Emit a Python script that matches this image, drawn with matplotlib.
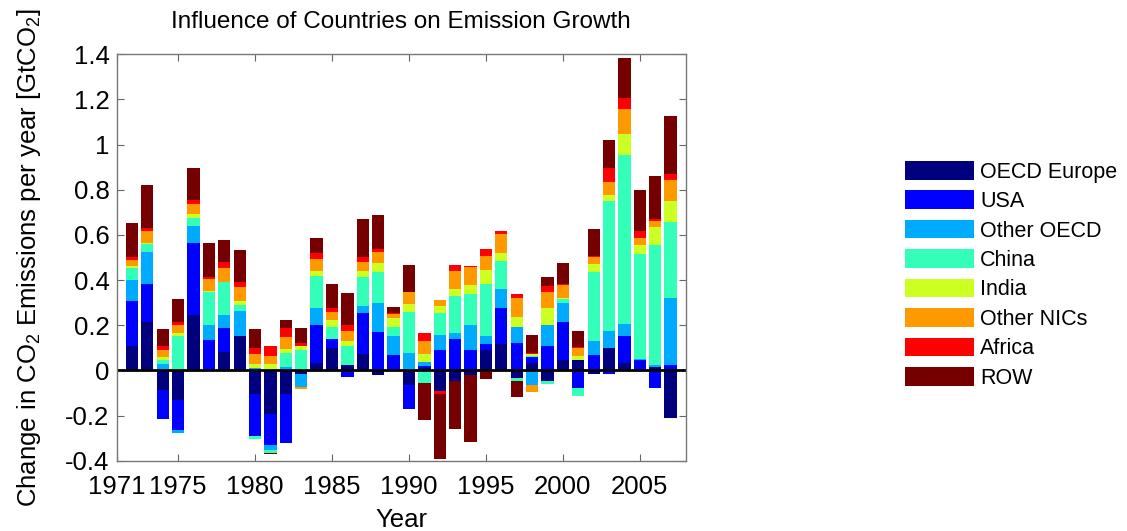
import matplotlib
matplotlib.use("Agg")
import matplotlib.pyplot as plt
import numpy as np

plt.rcParams["font.family"] = ["Liberation Sans", "DejaVu Sans"]
plt.rcParams["mathtext.default"] = "regular"

years = list(range(1972, 2008))

regions = ["OECD Europe", "USA", "Other OECD", "China", "India",
           "Other NICs", "Africa", "ROW"]
colors = ["#00007F", "#0000FF", "#00AAFF", "#33FFB8", "#CCFF22",
          "#FF9900", "#FF0000", "#760000"]

# yearly change per region [GtCO2/yr]
oecd_europe = [0.107, 0.213, -0.085, -0.132, 0.247, 0.005, 0.082, 0.154, -0.103, -0.194,
               -0.103, -0.018, 0.034, 0.100, 0.022, 0.071, -0.022, 0.000, -0.063, 0.012,
               -0.093, -0.049, -0.022, 0.088, 0.118, -0.032, 0.032, -0.047, 0.047, 0.044,
               -0.018, 0.100, 0.032, 0.000, 0.015, -0.211]
usa = [0.202, 0.169, -0.130, -0.130, 0.316, 0.130, 0.105, 0.000, -0.188, -0.137,
       -0.217, 0.000, 0.167, 0.040, -0.029, 0.183, 0.169, 0.066, -0.109, 0.008,
       0.088, 0.137, 0.088, 0.030, 0.157, 0.123, 0.027, 0.107, 0.167, -0.077,
       0.066, -0.018, 0.120, 0.044, -0.078, 0.022]
other_oecd = [0.091, 0.140, 0.026, -0.017, 0.074, 0.064, 0.056, 0.111, 0.012, -0.022,
              0.015, -0.056, 0.074, 0.000, 0.000, 0.033, 0.130, 0.084, 0.076, 0.017,
              0.069, 0.029, 0.115, 0.032, 0.085, 0.069, -0.063, 0.094, 0.084, 0.000,
              0.063, 0.073, 0.055, 0.005, 0.007, 0.300]
china = [0.053, 0.037, 0.018, 0.151, 0.039, 0.148, 0.150, 0.025, -0.015, -0.012,
         0.061, 0.091, 0.141, 0.051, 0.084, 0.125, 0.135, 0.041, 0.184, -0.054,
         0.096, 0.165, 0.135, 0.232, 0.125, -0.015, 0.005, -0.015, 0.016, -0.036,
         0.307, 0.576, 0.746, 0.465, 0.532, 0.335]
india = [0.009, 0.006, 0.015, 0.015, 0.018, 0.003, 0.000, 0.019, 0.017, 0.029,
         0.020, 0.015, 0.025, 0.034, 0.026, 0.029, 0.041, 0.039, 0.034, 0.037,
         0.034, 0.029, 0.040, 0.062, 0.034, 0.044, 0.010, 0.074, 0.008, 0.020,
         0.034, 0.026, 0.093, 0.040, 0.081, 0.092]
other_nics = [0.028, 0.050, 0.029, 0.033, 0.041, 0.053, 0.058, 0.059, 0.042, 0.036,
              0.051, -0.007, 0.052, 0.032, 0.042, 0.037, 0.050, 0.020, 0.052, 0.058,
              0.026, 0.078, 0.078, 0.063, 0.084, 0.086, -0.033, 0.074, 0.054, 0.034,
              0.030, 0.057, 0.109, 0.034, 0.025, 0.093]
africa = [0.010, 0.014, 0.018, 0.014, 0.021, 0.012, 0.027, 0.025, 0.029, 0.041,
          0.041, 0.016, 0.025, 0.018, 0.027, 0.025, 0.012, 0.003, 0.000, 0.033,
          -0.010, 0.030, 0.004, 0.030, 0.012, 0.017, 0.003, 0.026, 0.005, 0.007,
          0.006, 0.062, 0.052, 0.028, 0.012, 0.029]
row = [0.153, 0.191, 0.078, 0.103, 0.138, 0.150, 0.098, 0.141, 0.082, -0.007,
       0.036, 0.066, 0.067, 0.107, 0.142, 0.166, 0.150, 0.029, 0.120, -0.167,
       -0.291, -0.211, -0.297, -0.037, 0.000, -0.071, 0.080, 0.037, 0.093, 0.070,
       0.120, 0.125, 0.176, 0.182, 0.189, 0.256]

series = [oecd_europe, usa, other_oecd, china, india, other_nics, africa, row]

xticks = [1971, 1975, 1980, 1985, 1990, 1995, 2000, 2005]
yticks = [-0.4, -0.2, 0, 0.2, 0.4, 0.6, 0.8, 1, 1.2, 1.4]

fig = plt.figure(figsize=(11.27, 5.31), dpi=100)
ax = fig.add_axes([0.1034, 0.1324, 0.5053, 0.7656])

# positive and negative parts are stacked separately from zero
pos_bottom = np.zeros(len(years))
neg_bottom = np.zeros(len(years))
for name, vals, col in zip(regions, series, colors):
    v = np.array(vals)
    bottom = np.where(v >= 0, pos_bottom, neg_bottom)
    ax.bar(years, v, width=0.8, bottom=bottom, color=col, linewidth=0, label=name)
    pos_bottom += np.clip(v, 0, None)
    neg_bottom += np.clip(v, None, 0)

ax.axhline(0, color="black", linewidth=2)

ax.set_xlim(1971, 2008)
ax.set_ylim(-0.4, 1.4)
ax.set_xticks(xticks)
ax.set_yticks(yticks)
ax.set_yticklabels([("%g" % t) for t in yticks])
ax.tick_params(direction="in", top=True, right=True, length=5, width=0.8,
               labelsize=18.5, color="#666666")
ax.tick_params(axis="x", pad=10)
ax.tick_params(axis="y", pad=5)
for s in ax.spines.values():
    s.set_color("#777777")
    s.set_linewidth(1.0)

ax.set_title("Influence of Countries on Emission Growth", fontsize=17.5, pad=19)
ax.set_xlabel("Year", fontsize=18.5, labelpad=7)
ax.set_ylabel("Change in CO$_2$ Emissions per year [GtCO$_2$]", fontsize=18.5, labelpad=16)

fig.legend(loc="upper left", bbox_to_anchor=(905 / 1127, 1 - 161 / 531),
           frameon=False, fontsize=15.5, handlelength=3.2, handleheight=0.95,
           labelspacing=0.36, handletextpad=0.3, borderpad=0, borderaxespad=0)

fig.savefig("out.png", dpi=100)
